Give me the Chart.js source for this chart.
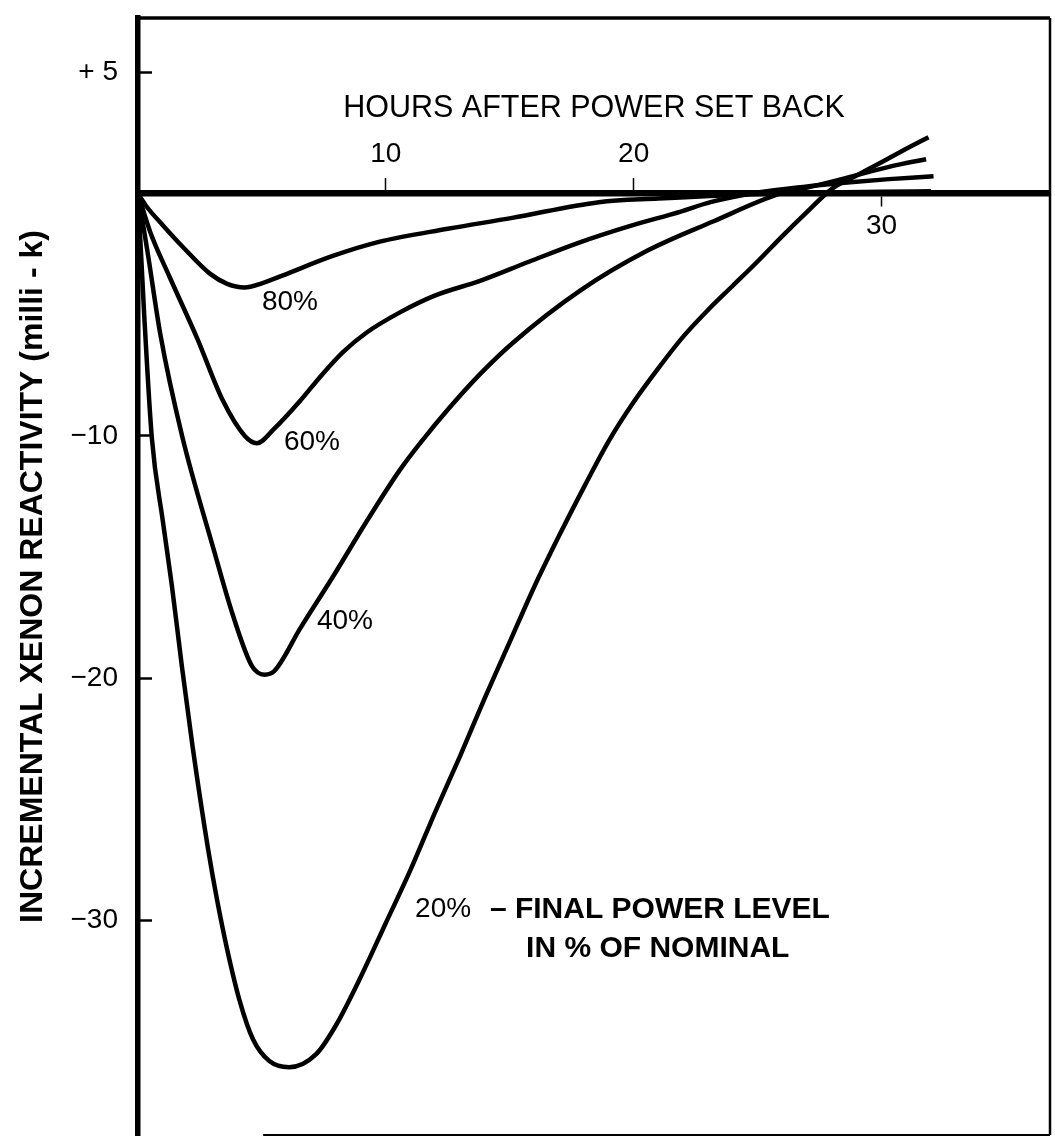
<!DOCTYPE html>
<html>
<head>
<meta charset="utf-8">
<script src="https://cdn.jsdelivr.net/npm/chart.js@4.4.1/dist/chart.umd.min.js"></script>
<style>
  html, body { margin: 0; padding: 0; background: #fff; }
  #wrap { width: 1055px; height: 1139px; }
</style>
</head>
<body>
<div id="wrap"><canvas id="c" width="1055" height="1139"></canvas></div>
<script>
// ---- data ----
const hours80 = [0, 0.36, 1.0, 1.81, 2.9, 3.6, 4.3, 5.0, 5.85, 7.86, 9.76, 12.5, 15.1, 18.6, 21.0, 24.0, 27.0, 30.0, 32.0];
const xenon80 = [0, -0.55, -1.3, -2.2, -3.3, -3.72, -3.87, -3.7, -3.37, -2.57, -1.98, -1.45, -1.0, -0.35, -0.2, -0.05, 0.04, 0.08, 0.1];

const hours60 = [0, 0.5, 1.29, 2.38, 3.43, 4.31, 4.8, 5.5, 6.5, 7.4, 8.27, 9.2, 10.57, 12.0, 13.8, 15.8, 17.8, 19.8, 21.9, 23.1, 25.0, 27.0, 28.5, 30.3, 32.1];
const xenon60 = [0, -1.6, -3.47, -5.95, -8.55, -10.0, -10.3, -9.7, -8.6, -7.5, -6.54, -5.75, -4.9, -4.2, -3.6, -2.8, -2.02, -1.35, -0.74, -0.35, 0.05, 0.3, 0.45, 0.6, 0.72];

const hours40 = [0, 0.4, 0.9, 1.78, 3.03, 3.83, 4.6, 5.1, 5.5, 6.54, 7.87, 9.24, 10.57, 11.5, 12.47, 13.8, 15.13, 17.84, 20.54, 23.2, 25.9, 27.0, 28.2, 29.5, 30.7, 31.8];
const xenon40 = [0, -2.5, -5.8, -10.0, -14.6, -17.4, -19.5, -19.85, -19.7, -17.95, -15.8, -13.5, -11.4, -10.15, -8.95, -7.45, -6.15, -4.0, -2.36, -1.15, 0.0, 0.25, 0.55, 0.9, 1.2, 1.42];

const hours20 = [0, 0.25, 0.56, 1.0, 1.37, 1.77, 2.2, 2.82, 3.2, 3.6, 4.1, 4.64, 5.3, 6.1, 7.2, 8.0, 9.0, 10.0, 11.0, 12.0, 13.0, 14.0, 15.0, 16.0, 17.0, 18.0, 19.0, 20.0, 21.0, 22.0, 23.0, 24.0, 25.0, 26.0, 27.0, 28.0, 29.0, 30.0, 31.0, 31.9];
const xenon20 = [0, -5.0, -10.1, -13.5, -16.2, -19.5, -22.8, -27.0, -29.2, -31.2, -33.3, -34.9, -35.8, -36.05, -35.5, -34.3, -32.3, -30.1, -27.9, -25.5, -23.2, -20.8, -18.5, -16.2, -14.1, -12.1, -10.2, -8.6, -7.2, -5.9, -4.8, -3.8, -2.8, -1.75, -0.75, 0.2, 0.75, 1.3, 1.85, 2.33];

const seriesNames = ['80%', '60%', '40%', '20%'];

const yTickValues = [5, -10, -20, -30];
const yTickLabels = ['+ 5', '\u221210', '\u221220', '\u221230'];
const xTickValuesAbove = [10, 20];
const xTickLabelsAbove = ['10', '20'];
const xTickValuesBelow = [30];
const xTickLabelsBelow = ['30'];

const yTitle = 'INCREMENTAL XENON REACTIVITY (milli - k)';
const xTitle = 'HOURS AFTER POWER SET BACK';
const legendLine1 = '\u2013 FINAL POWER LEVEL';
const legendLine2 = 'IN % OF NOMINAL';

// ---- presentation ----
const FONT = '"Liberation Sans", Arial, Helvetica, sans-serif';
const X_MIN = 0, X_MAX = 36.8, Y_MIN = -38.85, Y_MAX = 7.25;

function pts(xs, ys) { return xs.map((h, i) => ({ x: h, y: ys[i] })); }
function noPad(s) { s.paddingTop = 0; s.paddingBottom = 0; s.paddingLeft = 0; s.paddingRight = 0; }

const curveStyle = {
  borderColor: '#000', borderWidth: 4.5, pointRadius: 0, pointHoverRadius: 0,
  fill: false, cubicInterpolationMode: 'monotone', showLine: true
};

const notes = [
  { text: seriesNames[0], x: 6.13, y: -4.5, align: 'center', weight: 'normal', size: 28 },
  { text: seriesNames[1], x: 7.02, y: -10.25, align: 'center', weight: 'normal', size: 28 },
  { text: seriesNames[2], x: 8.35, y: -17.65, align: 'center', weight: 'normal', size: 28 },
  { text: seriesNames[3], x: 11.18, y: -29.55, align: 'left', weight: 'normal', size: 28 },
  { text: legendLine1, x: 14.2, y: -29.55, align: 'left', weight: 'bold', size: 30 },
  { text: legendLine2, x: 15.66, y: -31.15, align: 'left', weight: 'bold', size: 30 },
  { text: xTitle, x: 18.4, y: 3.5, align: 'center', weight: 'normal', size: 30.5 }
];

const framePlugin = {
  id: 'frame',
  afterDatasetsDraw(chart) {
    const { ctx, chartArea: a, scales } = chart;
    const x = scales.x, y = scales.y;
    ctx.save();
    ctx.strokeStyle = '#000';
    ctx.lineCap = 'butt';
    ctx.lineWidth = 3.5;
    ctx.beginPath();
    ctx.moveTo(a.left, a.top);
    ctx.lineTo(a.right, a.top);
    ctx.stroke();
    ctx.lineWidth = 2.5;
    ctx.beginPath();
    ctx.moveTo(a.right, a.top);
    ctx.lineTo(a.right, a.bottom);
    ctx.stroke();
    ctx.lineWidth = 2;
    ctx.beginPath();
    ctx.moveTo(x.getPixelForValue(5.05), a.bottom);
    ctx.lineTo(a.right, a.bottom);
    ctx.stroke();
    ctx.fillStyle = '#000';
    ctx.textBaseline = 'middle';
    notes.forEach(n => {
      ctx.font = n.weight + ' ' + n.size + 'px ' + FONT;
      ctx.textAlign = n.align;
      ctx.fillText(n.text, x.getPixelForValue(n.x), y.getPixelForValue(n.y));
    });
    ctx.restore();
  }
};

new Chart(document.getElementById('c'), {
  type: 'line',
  data: {
    datasets: [
      Object.assign({ label: seriesNames[0], data: pts(hours80, xenon80) }, curveStyle),
      Object.assign({ label: seriesNames[1], data: pts(hours60, xenon60) }, curveStyle),
      Object.assign({ label: seriesNames[2], data: pts(hours40, xenon40) }, curveStyle),
      Object.assign({ label: seriesNames[3], data: pts(hours20, xenon20) }, curveStyle)
    ]
  },
  options: {
    responsive: false,
    animation: false,
    devicePixelRatio: 1,
    layout: { padding: { left: 0, top: 18, right: 5, bottom: 4 } },
    plugins: { legend: { display: false }, tooltip: { enabled: false } },
    scales: {
      x: {
        type: 'linear', min: X_MIN, max: X_MAX,
        position: { y: 0 },
        afterBuildTicks: s => { s.ticks = xTickValuesBelow.map(v => ({ value: v })); },
        afterFit: s => { s.height = 0; noPad(s); },
        ticks: {
          autoSkip: false, maxRotation: 0, color: '#000', padding: 6,
          font: { family: FONT, size: 28 },
          callback: v => xTickLabelsBelow[xTickValuesBelow.indexOf(v)]
        },
        grid: { display: true, drawOnChartArea: false, drawTicks: true, tickLength: 10, tickWidth: 1.5, tickColor: '#000' },
        border: { display: true, color: '#000', width: 6.5 }
      },
      x2: {
        type: 'linear', min: X_MIN, max: X_MAX,
        position: { y: 0 },
        afterBuildTicks: s => { s.ticks = xTickValuesAbove.map(v => ({ value: v })); },
        afterFit: s => { s.height = 0; noPad(s); },
        ticks: {
          autoSkip: false, maxRotation: 0, color: '#000', padding: -40,
          font: { family: FONT, size: 28 },
          callback: v => xTickLabelsAbove[xTickValuesAbove.indexOf(v)]
        },
        grid: { display: true, drawOnChartArea: false, drawTicks: true, tickLength: -16, tickWidth: 1.5, tickColor: '#000' },
        border: { display: false }
      },
      y: {
        type: 'linear', min: Y_MIN, max: Y_MAX, position: 'left',
        afterBuildTicks: s => { s.ticks = yTickValues.map(v => ({ value: v })); },
        afterFit: s => { s.width = 138; noPad(s); },
        ticks: {
          autoSkip: false, color: '#000', padding: 34,
          font: { family: FONT, size: 28 },
          callback: v => yTickLabels[yTickValues.indexOf(v)]
        },
        grid: { display: true, drawOnChartArea: false, drawTicks: true, tickLength: -14, tickWidth: 2.5, tickColor: '#000' },
        border: { display: true, color: '#000', width: 5.5 },
        title: {
          display: true, text: yTitle, color: '#000',
          font: { family: FONT, size: 32, weight: 'bold' },
          padding: { top: 14, bottom: 0 }
        }
      }
    }
  },
  plugins: [framePlugin]
});
</script>
</body>
</html>
